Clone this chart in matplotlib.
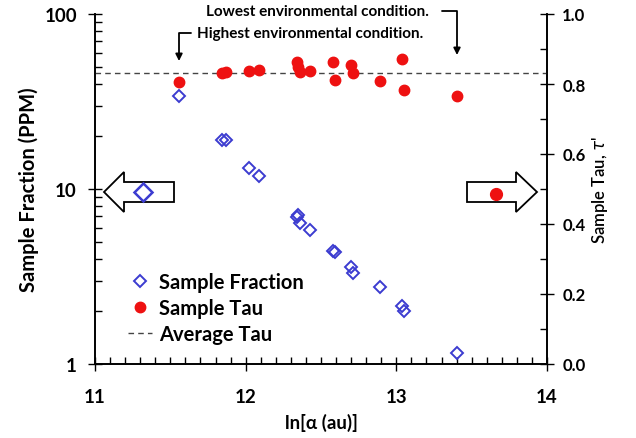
import matplotlib.pyplot as plt
from matplotlib.patches import Polygon
from matplotlib.ticker import MultipleLocator, LogLocator, NullFormatter

plt.rcParams['font.family'] = ['Lato', 'DejaVu Sans']

# data
ln_alpha = [11.56, 11.84, 11.87, 12.02, 12.09, 12.34, 12.35, 12.36, 12.43,
            12.58, 12.59, 12.70, 12.71, 12.89, 13.04, 13.05, 13.40]
fraction = [33.8, 19.1, 19.1, 13.2, 11.8, 6.9, 7.1, 6.4, 5.8,
            4.4, 4.35, 3.57, 3.31, 2.77, 2.15, 2.0, 1.16]
tau = [0.805, 0.831, 0.835, 0.836, 0.839, 0.862, 0.848, 0.835, 0.837,
       0.864, 0.811, 0.854, 0.831, 0.810, 0.871, 0.784, 0.766]
avg_tau = 0.831

blue = '#3c3cd0'
red = '#ee1111'

fig = plt.figure(figsize=(6.36, 4.39), dpi=100)
ax = fig.add_axes([95 / 636, 1 - 365 / 439, 452 / 636, 350 / 439])
ax2 = ax.twinx()

ax.plot(ln_alpha, fraction, 'D', ms=6.5, mfc='none', mec=blue, mew=1.4,
        label='Sample Fraction', zorder=3)
ax2.plot(ln_alpha, tau, 'o', ms=7.5, color=red, label='Sample Tau', zorder=3)
ax2.axhline(avg_tau, color='#444444', lw=1, ls=(0, (4, 3)), label='Average Tau')

ax.set_yscale('log')
ax.set_xlim(11, 14)
ax.set_ylim(1, 100)
ax2.set_ylim(0, 1)

ax.xaxis.set_major_locator(MultipleLocator(1))
ax.xaxis.set_minor_locator(MultipleLocator(0.1))
ax.yaxis.set_major_locator(LogLocator(base=10))
ax.yaxis.set_minor_locator(LogLocator(base=10, subs=range(2, 10)))
ax.yaxis.set_minor_formatter(NullFormatter())
ax.yaxis.set_major_formatter(plt.FuncFormatter(lambda v, p: '%g' % v))
ax2.yaxis.set_major_locator(MultipleLocator(0.2))
ax2.yaxis.set_minor_locator(MultipleLocator(0.1))
ax2.yaxis.set_major_formatter(plt.FuncFormatter(lambda v, p: '%.1f' % v))

for a in (ax, ax2):
    a.tick_params(which='major', direction='inout', length=10, width=1,
                  labelsize=13.5, pad=8)
    a.tick_params(which='minor', direction='in', length=5, width=1)
    for lab in a.get_xticklabels() + a.get_yticklabels():
        lab.set_fontweight('bold')
    a.spines['top'].set_visible(False)
    for s in ('left', 'right', 'bottom'):
        a.spines[s].set_linewidth(1.2)
ax.tick_params(axis='x', pad=12)
ax2.tick_params(axis='y', labelsize=12, pad=6)

ax.set_xlabel('ln[α (au)]', fontsize=13.5, fontweight='bold', labelpad=6)
ax.set_ylabel('Sample Fraction (PPM)', fontsize=14.5, fontweight='bold', labelpad=4)
ax2.set_ylabel("Sample Tau, $\\tau$'", fontsize=12, fontweight='semibold', labelpad=3)

h1, l1 = ax.get_legend_handles_labels()
h2, l2 = ax2.get_legend_handles_labels()
leg = ax.legend(h1 + h2, l1 + l2, loc='upper left', bbox_to_anchor=(0.055, 0.287),
                borderaxespad=0, frameon=False, handlelength=1.2, handletextpad=0.35,
                labelspacing=0.3, prop={'size': 14.5, 'weight': 'bold'})


# direction arrows (axes fraction, from pixel positions)
def to_ax(px, py):
    return ((px - 95) / 452, (365 - py) / 350)


left_arrow = [to_ax(*p) for p in [(104, 193), (124, 173), (124, 183), (174, 183),
                                  (174, 203), (124, 203), (124, 213)]]
right_arrow = [to_ax(*p) for p in [(537, 193), (516, 173), (516, 183), (467, 183),
                                   (467, 203), (516, 203), (516, 213)]]
for verts in (left_arrow, right_arrow):
    ax.add_patch(Polygon(verts, closed=True, fc='white', ec='black', lw=1.3,
                         transform=ax.transAxes, zorder=4))
ax.plot(*to_ax(143, 193), 'D', ms=9, mfc='none', mec=blue, mew=1.8,
        transform=ax.transAxes, zorder=5)
ax.plot(*to_ax(496, 195), 'o', ms=8.5, color=red, transform=ax.transAxes, zorder=5)

# annotations
ax.annotate('', xy=(457, 439 - 56), xytext=(442, 439 - 12),
            xycoords='figure pixels', textcoords='figure pixels',
            arrowprops=dict(arrowstyle='-|>', lw=1.3, color='black', mutation_scale=10,
                            connectionstyle='angle,angleA=0,angleB=90,rad=0',
                            shrinkA=0, shrinkB=0))
ax.annotate('', xy=(179, 439 - 62), xytext=(191, 439 - 34),
            xycoords='figure pixels', textcoords='figure pixels',
            arrowprops=dict(arrowstyle='-|>', lw=1.3, color='black', mutation_scale=10,
                            connectionstyle='angle,angleA=0,angleB=90,rad=0',
                            shrinkA=0, shrinkB=0))
fig.text(317 / 636, 1 - 12 / 439, 'Lowest environmental condition.',
         ha='center', va='center', fontsize=11, fontweight='bold')
fig.text(310 / 636, 1 - 34 / 439, 'Highest environmental condition.',
         ha='center', va='center', fontsize=11, fontweight='bold')

fig.savefig('out.png', dpi=100)
